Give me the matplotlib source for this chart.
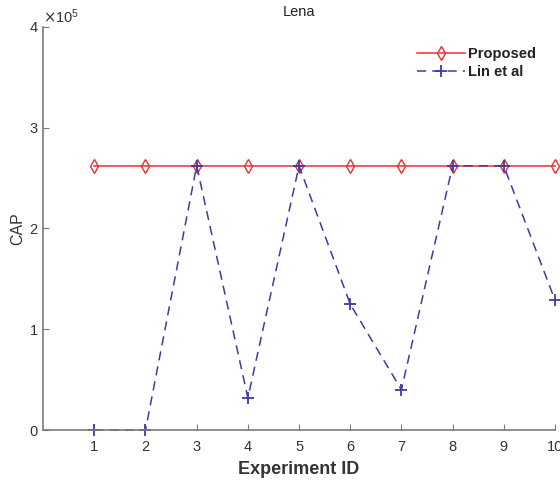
import numpy as np
import matplotlib.pyplot as plt

plt.rcParams['font.family'] = ['Liberation Sans', 'DejaVu Sans']

# data
experiment_id = [1, 2, 3, 4, 5, 6, 7, 8, 9, 10]
cap_proposed = [262144] * 10
cap_lin = [0, 0, 262144, 32000, 262144, 125000, 40000, 262144, 262144, 129000]

fig = plt.figure(figsize=(5.6, 4.8), dpi=100)
ax = fig.add_axes([0.077, 0.104, 0.914, 0.84])

ax.plot(experiment_id, cap_proposed, color='#e8303a', lw=1.1, marker='d',
        ms=7, mfc='none', mec='#e8303a', label='Proposed', clip_on=False)
ax.plot(experiment_id, cap_lin, color='#3c3ca0', lw=1.1, ls=(0, (6, 4)),
        marker='+', ms=9, mew=1.3, label='Lin et al', clip_on=False)

ax.set_xlim(0, 10)
ax.set_ylim(0, 400000)
ax.set_xticks(experiment_id)
ax.set_yticks([0, 100000, 200000, 300000, 400000])
ax.ticklabel_format(axis='y', style='sci', scilimits=(5, 5), useMathText=True)
ax.yaxis.get_offset_text().set_fontsize(10.5)
ax.yaxis.get_offset_text().set_color('#333333')

for s in ['top', 'right']:
    ax.spines[s].set_visible(False)
for s in ['left', 'bottom']:
    ax.spines[s].set_color('#7a7a7a')
    ax.spines[s].set_linewidth(1.2)
ax.tick_params(direction='in', length=4, color='#7a7a7a', labelsize=10.5,
               labelcolor='#333333')
ax.tick_params(axis='x', pad=7)

ax.set_title('Lena', fontsize=10.5, color='#222222', pad=8)
ax.set_xlabel('Experiment ID', fontsize=13, fontweight='bold', color='#333333', labelpad=5)
ax.set_ylabel('CAP', fontsize=11.5, color='#333333', labelpad=2)

leg = fig.legend(loc='upper left', bbox_to_anchor=(0.745, 0.902), frameon=False,
                 prop={'size': 10.5, 'weight': 'bold'}, handlelength=3.3,
                 handletextpad=0.2, labelspacing=0.25, borderpad=0,
                 borderaxespad=0)
for t in leg.get_texts():
    t.set_color('#222222')

fig.savefig('out.png', dpi=100)
